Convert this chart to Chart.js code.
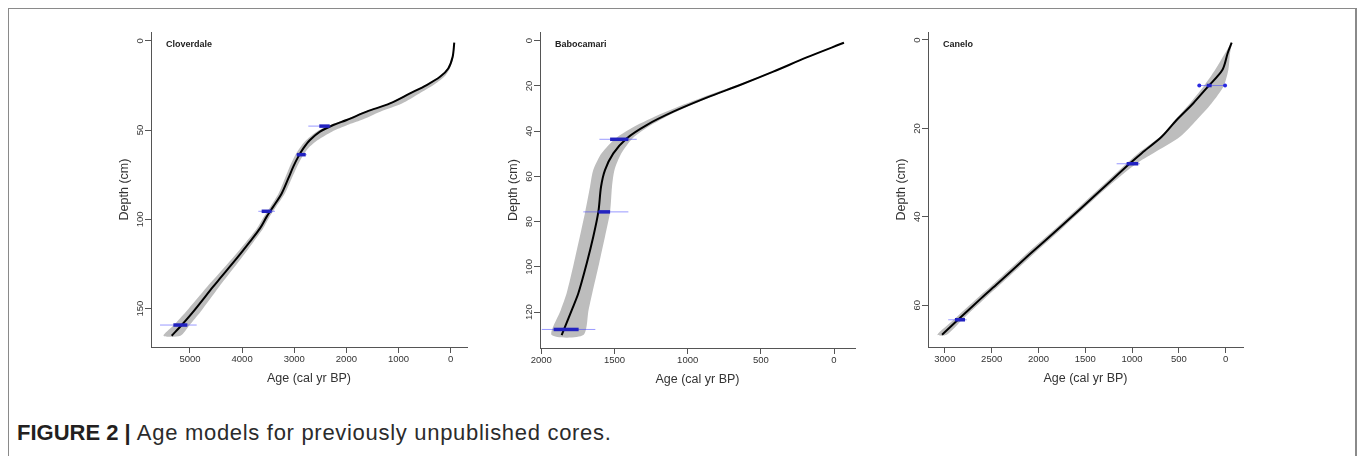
<!DOCTYPE html>
<html><head><meta charset="utf-8">
<script src="https://cdn.jsdelivr.net/npm/chart.js@4.4.1/dist/chart.umd.min.js"></script>
<style>
html,body{margin:0;padding:0;background:#fff;width:1357px;height:456px;overflow:hidden;position:relative;font-family:"Liberation Sans",Arial,sans-serif;}
#frame{position:absolute;left:8px;top:8px;width:1346px;height:520px;border:1px solid #8a8a8a;border-right:2px solid #8a8a8a;}
canvas{position:absolute;}
.ptitle{position:absolute;font:bold 9px "Liberation Sans",Arial,sans-serif;color:#222;line-height:10px;white-space:nowrap;}
#caption{position:absolute;left:17px;top:420px;font-size:22px;line-height:26px;color:#231f20;white-space:nowrap;font-family:"Liberation Sans",Arial,sans-serif;}
#caption b{font-weight:bold;}
#caption span{letter-spacing:0.7px;color:#2b2b2b;}
</style></head><body>
<div id="frame"></div>
<canvas id="c1"></canvas>
<canvas id="c2"></canvas>
<canvas id="c3"></canvas>
<div class="ptitle" id="t1">Cloverdale</div>
<div class="ptitle" id="t2">Babocamari</div>
<div class="ptitle" id="t3">Canelo</div>
<div id="caption"><b>FIGURE 2 |</b> <span>Age models for previously unpublished cores.</span></div>
<script>
// ---------- Cloverdale ----------
const cloverDepth    = [1.1, 9.0, 15.5, 20.2, 24.8, 29.5, 35.1, 39.7, 44.4, 47.2, 50.9, 55.6, 60.3, 64.9, 70.5, 77.1, 85.5, 92.9, 98.5, 105.1, 112.5, 121.9, 133.1, 137.7, 151.7, 159.2, 165.2];
const cloverAgeMean  = [-69, -38, 46, 205, 460, 780, 1164, 1611, 1994, 2251, 2506, 2698, 2826, 2922, 3018, 3114, 3241, 3402, 3528, 3657, 3849, 4104, 4424, 4555, 4936, 5158, 5350];
const cloverAgeOld   = [-61, -28, 61, 220, 480, 805, 1194, 1651, 2044, 2311, 2571, 2768, 2901, 2997, 3088, 3179, 3301, 3457, 3583, 3717, 3919, 4189, 4529, 4670, 5076, 5308, 5507];
const cloverAgeYoung = [-77, -53, 16, 125, 330, 600, 934, 1351, 1714, 1981, 2276, 2548, 2736, 2847, 2948, 3049, 3181, 3347, 3473, 3597, 3779, 4019, 4319, 4440, 4796, 5008, 5182];
const cloverDateDepth      = [47.8, 63.8, 95.5, 159.2];
const cloverDateThinOld    = [2730, 2966, 3689, 5574];
const cloverDateThinYoung  = [2300, 2761, 3370, 4871];
const cloverDateThickOld   = [2520, 2950, 3625, 5318];
const cloverDateThickYoung = [2320, 2780, 3434, 5050];
const cloverAgeTicks   = [5000, 4000, 3000, 2000, 1000, 0];
const cloverDepthTicks = [0, 50, 100, 150];

// ---------- Babocamari ----------
const baboDepth    = [0.9, 7.4, 13.7, 19.6, 25.2, 31.4, 37.3, 43.2, 49.8, 57.2, 64.6, 75.6, 86.7, 98.5, 111.7, 119.1, 130.2];
const baboAgeMean  = [-68, 187, 415, 642, 870, 1098, 1280, 1417, 1508, 1565, 1592, 1610, 1645, 1690, 1747, 1792, 1861];
const baboAgeOld   = [-63, 195, 427, 662, 905, 1148, 1345, 1492, 1588, 1645, 1667, 1700, 1737, 1778, 1827, 1867, 1929];
const baboAgeYoung = [-73, 179, 405, 630, 855, 1078, 1250, 1377, 1453, 1500, 1517, 1530, 1565, 1605, 1652, 1677, 1713];
const baboDateDepth      = [43.6, 75.7, 127.7];
const baboDateThinOld    = [1603, 1713, 1997];
const baboDateThinYoung  = [1348, 1405, 1631];
const baboDateThickOld   = [1530, 1609, 1916];
const baboDateThickYoung = [1405, 1530, 1745];
const baboAgeTicks   = [2000, 1500, 1000, 500, 0];
const baboDepthTicks = [0, 20, 40, 60, 80, 100, 120];

// ---------- Canelo ----------
const caneloDepth    = [0.6, 3.0, 6.8, 10.6, 14.3, 18.1, 21.9, 25.6, 27.9, 33.9, 42.2, 48.6, 55.0, 58.4, 63.3, 66.7];
const caneloAgeMean  = [-64, -21, 36, 192, 346, 524, 684, 897, 1022, 1330, 1760, 2100, 2430, 2610, 2860, 3030];
const caneloAgeOld   = [-60, 7, 114, 239, 381, 542, 702, 934, 1058, 1365, 1795, 2140, 2470, 2652, 2905, 3080];
const caneloAgeYoung = [-68, -46, -28, 25, 150, 310, 488, 773, 951, 1295, 1725, 2060, 2390, 2568, 2815, 2980];
const caneloDateDepth      = [10.3, 28.0, 63.3];
const caneloDateThinOld    = [282, 1165, 2964];
const caneloDateThinYoung  = [7, 916, 2767];
const caneloDateThickOld   = [203, 1058, 2892];
const caneloDateThickYoung = [150, 934, 2785];
const caneloAgeTicks   = [3000, 2500, 2000, 1500, 1000, 500, 0];
const caneloDepthTicks = [0, 20, 40, 60];

const AXIS = '#555555', TXT = '#333333';
Chart.defaults.font.family = '"Liberation Sans", Arial, sans-serif';

function bandPoints(depth, old, young) {
  const pts = depth.map((d, i) => ({x: old[i], y: d}));
  for (let i = depth.length - 1; i >= 0; i--) pts.push({x: young[i], y: depth[i]});
  return pts;
}

function makePanel(id, p) {
  const cv = document.getElementById(id);
  const yW = 40, xH = 40, padTop = 12, padRight = 10;
  const left = p.axisX - yW, top = p.areaTop - padTop;
  const width = p.areaRight + padRight - left, height = p.areaBottom + xH - top;
  cv.width = width; cv.height = height;
  cv.style.left = left + 'px'; cv.style.top = top + 'px';
  cv.style.width = width + 'px'; cv.style.height = height + 'px';

  const datasets = [];
  p.dateDepth.forEach((d, i) => {
    datasets.push({data: [{x: p.thickOld[i], y: d}, {x: p.thickYoung[i], y: d}],
      borderColor: '#2222c0', borderWidth: 3.5, pointRadius: 0, fill: false, order: 0});
    datasets.push({data: [{x: p.thinOld[i], y: d}, {x: p.thinYoung[i], y: d}],
      borderColor: 'rgba(70,70,255,0.55)', borderWidth: 1, fill: false, order: 1,
      pointRadius: p.dots && p.dots[i] ? 2 : 0, pointBackgroundColor: '#2a2ae0', pointBorderWidth: 0});
  });
  datasets.push({data: p.depth.map((d, i) => ({x: p.mean[i], y: d})),
    borderColor: '#000', borderWidth: 2, pointRadius: 0, fill: false, tension: 0.3, order: 5});
  datasets.push({data: bandPoints(p.depth, p.old, p.young),
    borderWidth: 0, borderColor: 'rgba(0,0,0,0)', backgroundColor: '#bdbdbd', pointRadius: 0,
    fill: 'shape', tension: 0.25, order: 10});

  const gridOpt = {display: true, drawOnChartArea: false, drawTicks: true, tickLength: 6, color: AXIS, lineWidth: 1};
  const borderOpt = {display: true, color: AXIS, width: 1};
  const plain = v => String(v);
  new Chart(cv, {
    type: 'line',
    data: {datasets},
    options: {
      responsive: false, animation: false, events: [],
      layout: {padding: {top: padTop, right: padRight, left: 0, bottom: 0}},
      plugins: {legend: {display: false}, tooltip: {enabled: false}, title: {display: false}},
      scales: {
        x: {type: 'linear', reverse: true, min: p.xMin, max: p.xMax,
          afterFit: s => { s.height = xH; },
          afterBuildTicks: s => { s.ticks = p.xTicks.map(v => ({value: v})); },
          grid: gridOpt, border: borderOpt,
          ticks: {font: {size: 9.5}, color: TXT, padding: 1, maxRotation: 0, autoSkip: false, callback: plain},
          title: {display: true, text: 'Age (cal yr BP)', font: {size: 12.5}, color: TXT, padding: {top: 0, bottom: 0.5}}
        },
        y: {type: 'linear', position: 'left', reverse: true, min: p.yMin, max: p.yMax,
          afterFit: s => { s.width = yW; },
          afterBuildTicks: s => { s.ticks = p.yTicks.map(v => ({value: v})); },
          grid: gridOpt, border: borderOpt,
          ticks: {font: {size: 9.5}, color: TXT, padding: p.yLabelPad, minRotation: 90, maxRotation: 90, crossAlign: 'center', autoSkip: false, callback: plain},
          title: {display: true, text: 'Depth (cm)', font: {size: 12.5}, color: TXT, padding: {top: 6.2, bottom: 0}}
        }
      }
    }
  });
  const t = document.getElementById(p.titleId);
  t.style.left = (p.axisX + 15) + 'px';
  t.style.top = (p.areaTop + 6.5) + 'px';
}

makePanel('c1', {axisX: 151, areaTop: 32, areaRight: 467, areaBottom: 347,
  xMin: -313, xMax: 5747, yMin: -4.9, yMax: 171.5, xTicks: cloverAgeTicks, yTicks: cloverDepthTicks, yLabelPad: -2.9,
  depth: cloverDepth, mean: cloverAgeMean, old: cloverAgeOld, young: cloverAgeYoung,
  dateDepth: cloverDateDepth, thinOld: cloverDateThinOld, thinYoung: cloverDateThinYoung,
  thickOld: cloverDateThickOld, thickYoung: cloverDateThickYoung, titleId: 't1'});
makePanel('c2', {axisX: 540, areaTop: 32, areaRight: 855, areaBottom: 348,
  xMin: -143.5, xMax: 2009, yMin: -3.85, yMax: 135.9, xTicks: baboAgeTicks, yTicks: baboDepthTicks, yLabelPad: -2.9,
  depth: baboDepth, mean: baboAgeMean, old: baboAgeOld, young: baboAgeYoung,
  dateDepth: baboDateDepth, thinOld: baboDateThinOld, thinYoung: baboDateThinYoung,
  thickOld: baboDateThickOld, thickYoung: baboDateThickYoung, titleId: 't2'});
makePanel('c3', {axisX: 928, areaTop: 32, areaRight: 1243, areaBottom: 347,
  xMin: -184.8, xMax: 3180, yMin: -1.81, yMax: 69.46, xTicks: caneloAgeTicks, yTicks: caneloDepthTicks, yLabelPad: -0.3,
  depth: caneloDepth, mean: caneloAgeMean, old: caneloAgeOld, young: caneloAgeYoung,
  dateDepth: caneloDateDepth, thinOld: caneloDateThinOld, thinYoung: caneloDateThinYoung,
  thickOld: caneloDateThickOld, thickYoung: caneloDateThickYoung, dots: [true, false, false], titleId: 't3'});
</script>
</body></html>
